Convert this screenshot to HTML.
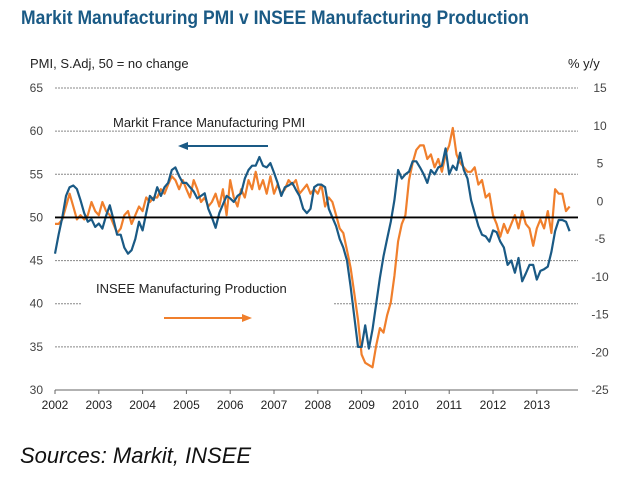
<!DOCTYPE html>
<html><head><meta charset="utf-8"><style>
body{margin:0;background:#fff;width:640px;height:473px;overflow:hidden;font-family:"Liberation Sans",sans-serif}
</style></head><body>
<svg id="chart" width="640" height="473" xmlns="http://www.w3.org/2000/svg">
<text x="21" y="24" font-size="19" font-weight="bold" fill="#1a5a85" textLength="508" lengthAdjust="spacingAndGlyphs">Markit Manufacturing PMI v INSEE Manufacturing Production</text>
<text x="30" y="68" font-size="13" fill="#222">PMI, S.Adj, 50 = no change</text>
<text x="568" y="68" font-size="13" fill="#222">% y/y</text>
<g id="grid"></g>
<rect x="82" y="296" width="252" height="16" fill="#fff"/>
<g id="series"></g>
<text x="113" y="127" font-size="13" fill="#222">Markit France Manufacturing  PMI</text>
<g><line x1="186" y1="146" x2="268" y2="146" stroke="#1a5a85" stroke-width="2"/><polygon points="178,146 188,142 188,150" fill="#1a5a85"/></g>
<text x="96" y="293" font-size="13" fill="#222">INSEE  Manufacturing  Production</text>
<g><line x1="164" y1="318" x2="245" y2="318" stroke="#f07f2c" stroke-width="2"/><polygon points="252,318 242,314 242,322" fill="#f07f2c"/></g>
<text x="20" y="463" font-size="22" font-style="italic" fill="#111">Sources: Markit, INSEE</text>
</svg>
<script>
const years=[2002,2003,2004,2005,2006,2007,2008,2009,2010,2011,2012,2013];
const leftTicks=[65,60,55,50,45,40,35,30];
const rightTicks=[15,10,5,0,-5,-10,-15,-20,-25];
const pmi=[45.8,48,50,52.5,53.5,53.7,53.3,52,50.5,49.5,49.8,48.9,
49.3,48.7,50.2,51.4,49.8,48,48,46.5,45.8,46.2,47.5,49.5,
48.5,50.5,52.5,52,53.5,52.5,53.5,54,55.5,55.8,54.8,54,
54,53.5,53,52.2,52.5,52.8,51,50,48.8,50.5,51.5,52.5,
52.2,51.8,52.5,52.8,54.5,55.5,56,56,57,56,55.8,56.3,
55.2,54,52.5,53.5,53.7,54,53.2,52.5,51,50.5,51,53.5,
53.8,53.8,53.5,51,50,49,47.5,46.5,45,42,38.5,35,
35,37.5,34.8,37,40,43,45.5,47.5,49.5,52,55.5,54.5,
55,55.3,56.5,56.5,55.8,55,54,55.5,55,55.8,56,58,
55,56,55.5,57.5,55.5,54.5,52,50.5,49,48,47.8,47.2,
48.5,48.3,47.2,46.5,44.5,45,43.6,45.3,42.6,43.5,44.5,44.5,
42.8,43.8,44,44.3,46,48.4,49.7,49.7,49.5,48.4];
const insee=[-3.0,-3.0,-2.4,-0.7,1.0,-0.7,-2.4,-1.85,-2.4,-1.85,-0.1,-1.3,
-1.85,-0.1,-1.3,-1.85,-3.0,-4.2,-3.6,-1.85,-1.3,-3.0,-1.85,-0.7,
-1.3,0.5,-0.1,0.5,0.5,1.6,1.0,2.2,3.3,2.8,1.6,2.8,
1.6,0.5,2.8,1.6,-0.1,0.5,-0.7,-0.1,1.0,-0.7,1.6,-1.85,
2.8,0.5,-0.7,1.6,0.5,2.8,1.6,3.9,1.6,2.8,1.0,3.3,
1.0,2.2,1.0,1.6,2.8,2.2,2.8,1.0,1.6,2.2,1.0,1.6,
1.0,2.2,-0.7,0.5,-0.1,-1.85,-3.6,-4.2,-6.5,-8.8,-12.2,-15.7,
-20.3,-21.4,-21.7,-22.0,-19.1,-16.8,-17.4,-15.1,-13.4,-9.9,-5.3,-3.0,
-1.85,2.8,5.1,6.8,7.4,7.4,5.6,6.2,4.5,5.6,3.9,6.2,
7.4,9.7,6.2,5.1,4.5,3.9,3.9,4.5,2.2,2.8,0.5,1.0,
-1.85,-3.0,-4.7,-3.0,-4.2,-3.0,-1.85,-3.6,-1.3,-3.0,-3.6,-5.9,
-3.6,-2.4,-3.6,-1.3,-4.2,1.6,1.0,1.0,-1.3,-0.7];
const X0=55,YW=43.8,PR=578;
const x=t=>X0+(t-2002)*YW;
const yL=v=>88+(65-v)*(302/35);
const yR=v=>88+(15-v)*(302/40);
const NS="http://www.w3.org/2000/svg";
function mk(tag,attrs,parent){const e=document.createElementNS(NS,tag);for(const k in attrs)e.setAttribute(k,attrs[k]);parent.appendChild(e);return e;}
const grid=document.getElementById('grid'),ser=document.getElementById('series');
leftTicks.forEach(v=>{
  if(v!==50&&v!==30){const g=mk('line',{x1:X0,x2:PR,y1:yL(v),y2:yL(v),stroke:'#888','stroke-width':1,'stroke-dasharray':'2,1'},grid);
  
  }
  const t=mk('text',{x:X0-12,y:yL(v)+4,'font-size':12,fill:'#444','text-anchor':'end'},grid);t.textContent=v;
  
  
});
rightTicks.forEach(v=>{
  const t=mk('text',{x:PR+22,y:yR(v)+4,'font-size':12,fill:'#444','text-anchor':'middle'},grid);t.textContent=v;
  
  
});
const ax=mk('line',{x1:X0,x2:PR,y1:yL(30),y2:yL(30),stroke:'#666','stroke-width':1},grid);


years.forEach(yr=>{
  const tk=mk('line',{x1:x(yr),x2:x(yr),y1:yL(30),y2:yL(30)+4,stroke:'#666'},grid);
  
  
  const t=mk('text',{x:x(yr),y:yL(30)+19,'font-size':12,fill:'#222','text-anchor':'middle'},grid);t.textContent=yr;
  
  
});
const pI=insee.map((v,i)=>x(2002+i/12).toFixed(1)+','+yR(v).toFixed(1)).join(' ');
const lo=mk('polyline',{points:pI,fill:'none',stroke:'#f07f2c','stroke-width':2.2,'stroke-linejoin':'round'},ser);


const pP=pmi.map((v,i)=>x(2002+i/12).toFixed(1)+','+yL(v).toFixed(1)).join(' ');
const lb=mk('polyline',{points:pP,fill:'none',stroke:'#1a5a85','stroke-width':2.2,'stroke-linejoin':'round'},ser);


const z=mk('line',{x1:X0,x2:PR,y1:yL(50),y2:yL(50),stroke:'#000','stroke-width':1.8},ser);


</script>
</body></html>
